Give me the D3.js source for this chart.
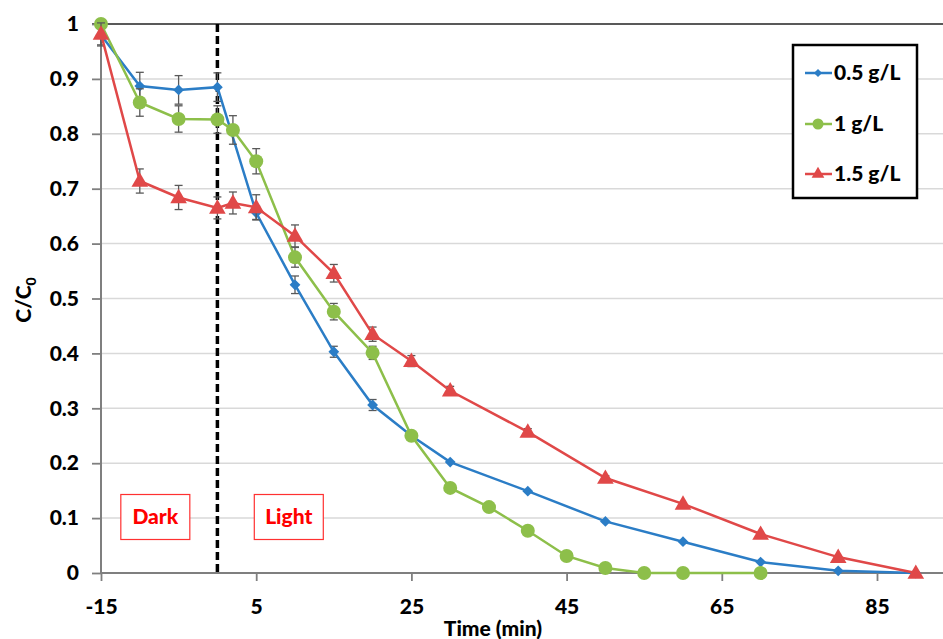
<!DOCTYPE html>
<html>
<head>
<meta charset="utf-8">
<script src="https://cdn.jsdelivr.net/npm/d3@7"></script>
<style>
  html, body { margin: 0; padding: 0; background: #fff; }
  svg { display: block; font-family: Lato, "Open Sans", sans-serif; font-weight: 900; }
</style>
</head>
<body>
<svg id="chart" width="943" height="639"></svg>
<script>
// Photocatalytic degradation: C/C0 versus time for three catalyst loadings
const xTicks = [-15, 5, 25, 45, 65, 85];
const yTicks = [0, 0.1, 0.2, 0.3, 0.4, 0.5, 0.6, 0.7, 0.8, 0.9, 1];

const seriesNames = ["0.5 g/L", "1 g/L", "1.5 g/L"];
const seriesColors = ["#2b7dc6", "#8dbf4a", "#e04848"];

const timeA = [-15, -10, -5, 0, 5, 10, 15, 20, 25, 30, 40, 50, 60, 70, 80, 90];
const valA  = [0.980, 0.887, 0.880, 0.885, 0.656, 0.525, 0.403, 0.306, 0.250, 0.202, 0.149, 0.094, 0.057, 0.020, 0.004, 0.000];
const errA  = [0.020, 0.025, 0.026, 0.026, 0.012, 0.016, 0.010, 0.010, 0.005, 0, 0, 0, 0, 0, 0, 0];

const timeB = [-15, -10, -5, 0, 2, 5, 10, 15, 20, 25, 30, 35, 40, 45, 50, 55, 60, 70];
const valB  = [1.000, 0.857, 0.827, 0.826, 0.807, 0.750, 0.575, 0.476, 0.401, 0.250, 0.155, 0.120, 0.077, 0.031, 0.009, 0.000, 0.000, 0.000];
const errB  = [0, 0.025, 0.024, 0.025, 0.026, 0.023, 0.018, 0.015, 0.012, 0.005, 0, 0, 0, 0, 0, 0, 0, 0];

const timeC = [-15, -10, -5, 0, 2, 5, 10, 15, 20, 25, 30, 40, 50, 60, 70, 80, 90];
const valC  = [0.982, 0.714, 0.684, 0.665, 0.674, 0.666, 0.614, 0.546, 0.435, 0.386, 0.332, 0.257, 0.173, 0.126, 0.071, 0.029, 0.000];
const errC  = [0.020, 0.022, 0.022, 0.020, 0.020, 0.023, 0.020, 0.016, 0.013, 0.010, 0.008, 0.006, 0.004, 0, 0, 0, 0];

const phaseBoundary = 0;
const phaseLabels = [{ text: "Dark", t: -8 }, { text: "Light", t: 9.2 }];

const series = [
  { name: seriesNames[0], color: seriesColors[0], shape: "diamond", t: timeA, v: valA, e: errA },
  { name: seriesNames[1], color: seriesColors[1], shape: "circle", t: timeB, v: valB, e: errB },
  { name: seriesNames[2], color: seriesColors[2], shape: "triangle", t: timeC, v: valC, e: errC }
];

const svg = d3.select("#chart");
const x = d3.scaleLinear().domain([-15, 95]).range([101, 954.6]);
const y = d3.scaleLinear().domain([0, 1]).range([573, 24]);
const FONT = "21px";

// horizontal gridlines
svg.append("g").selectAll("line").data(yTicks.filter(d => d > 0 && d < 1)).join("line")
  .attr("x1", x(-15)).attr("x2", 943)
  .attr("y1", d => y(d)).attr("y2", d => y(d))
  .attr("stroke", "#d9d9d9").attr("stroke-width", 1.5);

// top frame line
svg.append("line").attr("x1", x(-15) - 9).attr("x2", 943)
  .attr("y1", y(1)).attr("y2", y(1)).attr("stroke", "#595959").attr("stroke-width", 1.8);

// axes
const yAxis = svg.append("g").attr("transform", `translate(${x(-15)},0)`)
  .call(d3.axisLeft(y).tickValues(yTicks).tickFormat(d3.format("~g")).tickSize(9).tickPadding(13));
const xAxis = svg.append("g").attr("transform", `translate(0,${y(0)})`)
  .call(d3.axisBottom(x).tickValues(xTicks).tickFormat(d => String(d)).tickSize(8).tickPadding(18));
[xAxis, yAxis].forEach(g => {
  g.select(".domain").attr("stroke", "#7f7f7f").attr("stroke-width", 2);
  g.selectAll(".tick line").attr("stroke", "#7f7f7f").attr("stroke-width", 1.8);
  g.selectAll(".tick text").attr("fill", "#000").style("font-size", FONT)
    .style("font-family", "Lato, 'Open Sans', sans-serif").style("font-weight", "900");
});
xAxis.select(".domain").attr("d", `M${x(-15)},0H943`);
yAxis.select(".domain").attr("d", `M0,${y(0)}V${y(1)}`);

// axis titles
svg.append("text").attr("x", 493).attr("y", 636).attr("text-anchor", "middle")
  .style("font-size", FONT).text("Time (min)");
const yl = svg.append("text").attr("transform", "translate(31,300) rotate(-90)")
  .attr("text-anchor", "middle").style("font-size", FONT);
yl.append("tspan").text("C/C");
yl.append("tspan").attr("dy", 5).style("font-size", "14px").text("0");

// dark / light boundary
svg.append("line").attr("x1", x(phaseBoundary)).attr("x2", x(phaseBoundary))
  .attr("y1", y(1)).attr("y2", y(0))
  .attr("stroke", "#000").attr("stroke-width", 3.5).attr("stroke-dasharray", "8,4");

// phase labels
phaseLabels.forEach(p => {
  const cx = x(p.t);
  svg.append("rect").attr("x", cx - 34.5).attr("y", 494.5).attr("width", 69).attr("height", 45)
    .attr("fill", "#fff").attr("stroke", "#ff3030").attr("stroke-width", 1.2);
  svg.append("text").attr("x", cx).attr("y", 524).attr("text-anchor", "middle")
    .attr("fill", "#ff0000").style("font-size", FONT).text(p.text);
});

function marker(sel, shape, color) {
  if (shape === "diamond") {
    sel.append("path").attr("d", d3.symbol(d3.symbolSquare, 58)()).attr("transform", "rotate(45)").attr("fill", color);
  } else if (shape === "circle") {
    sel.append("circle").attr("r", 7).attr("fill", color);
  } else {
    sel.append("path").attr("d", d3.symbol(d3.symbolTriangle, 120)()).attr("transform", "translate(0,1)").attr("fill", color);
  }
}

const line = d3.line().x(d => x(d[0])).y(d => y(d[1]));

series.forEach(s => {
  const pts = s.t.map((t, i) => [t, s.v[i], s.e[i]]);
  const g = svg.append("g");
  // error bars
  const eb = g.append("g").selectAll("g").data(pts.filter(p => p[2] > 0)).join("g")
    .attr("stroke", "#595959").attr("stroke-width", 1.3);
  eb.append("line").attr("x1", d => x(d[0])).attr("x2", d => x(d[0]))
    .attr("y1", d => y(d[1] - d[2])).attr("y2", d => y(d[1] + d[2]));
  eb.append("line").attr("x1", d => x(d[0]) - 4).attr("x2", d => x(d[0]) + 4)
    .attr("y1", d => y(d[1] + d[2])).attr("y2", d => y(d[1] + d[2]));
  eb.append("line").attr("x1", d => x(d[0]) - 4).attr("x2", d => x(d[0]) + 4)
    .attr("y1", d => y(d[1] - d[2])).attr("y2", d => y(d[1] - d[2]));
  // line and markers
  g.append("path").attr("d", line(pts)).attr("fill", "none")
    .attr("stroke", s.color).attr("stroke-width", 2.5);
  g.selectAll("g.m").data(pts).join("g").attr("class", "m")
    .attr("transform", d => `translate(${x(d[0])},${y(d[1])})`)
    .each(function () { marker(d3.select(this), s.shape, s.color); });
});

// legend
const lg = svg.append("g");
lg.append("rect").attr("x", 793).attr("y", 45).attr("width", 124).attr("height", 153)
  .attr("fill", "#fff").attr("stroke", "#000").attr("stroke-width", 2.5);
const rowY = [73, 124, 174];
series.forEach((s, i) => {
  const r = lg.append("g").attr("transform", `translate(0,${rowY[i]})`);
  r.append("line").attr("x1", 805).attr("x2", 832).attr("stroke", s.color).attr("stroke-width", 2.5);
  const m = r.append("g").attr("transform", "translate(818,0)");
  if (s.shape === "diamond") m.append("path").attr("d", d3.symbol(d3.symbolSquare, 34)()).attr("transform", "rotate(45)").attr("fill", s.color);
  else if (s.shape === "circle") m.append("circle").attr("r", 5.5).attr("fill", s.color);
  else m.append("path").attr("d", d3.symbol(d3.symbolTriangle, 70)()).attr("fill", s.color);
  r.append("text").attr("x", 834).attr("y", 7).style("font-size", FONT).text(s.name);
});
</script>
</body>
</html>
